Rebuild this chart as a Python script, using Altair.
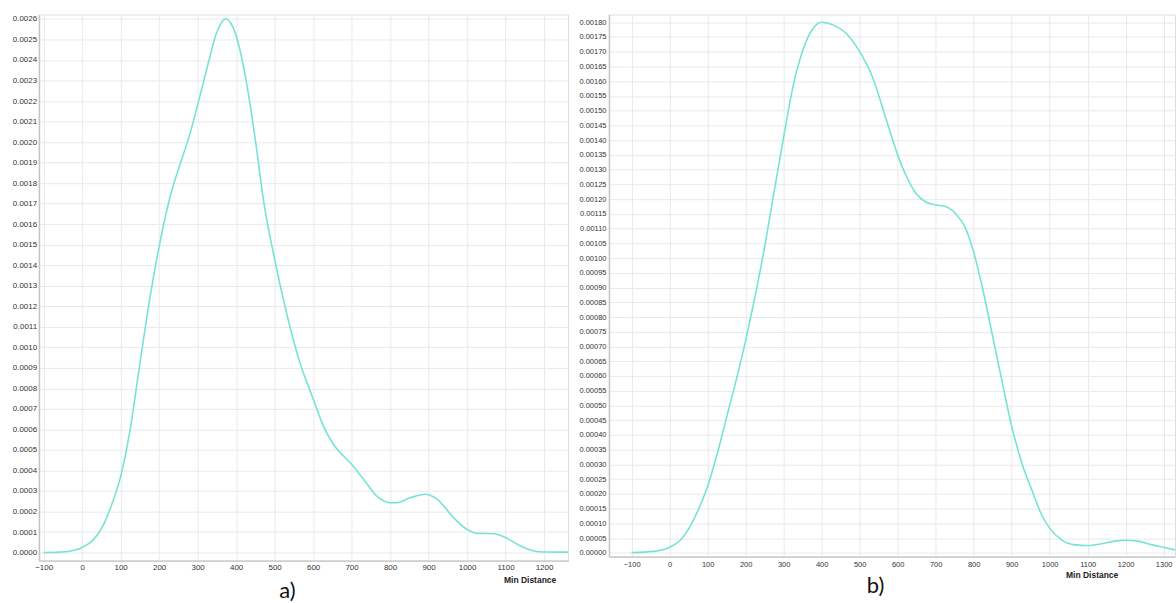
import altair as alt
import pandas as pd

# ---- panel a) : KDE of Min Distance ----
a_x = [-100, -60, -30, 0, 29, 55, 80, 100, 124, 150, 176, 200, 228, 254, 280, 300,
       323, 349, 373, 398, 427, 453, 470, 500, 532, 565, 600, 626, 652, 700, 730,
       765, 800, 817, 852, 891, 922, 965, 1000, 1026, 1070, 1100, 1139, 1174, 1200, 1263]
a_d = [0.0000000, 0.0000020, 0.0000080, 0.0000250, 0.0000620, 0.0001340, 0.0002500,
       0.0003700, 0.0005900, 0.0009200, 0.0012400, 0.0014900, 0.0017300, 0.0018900,
       0.0020400, 0.0021800, 0.0023500, 0.0025300, 0.0026000, 0.0025300, 0.0022900,
       0.0019700, 0.0017300, 0.0014300, 0.0011600, 0.0009300, 0.0007500, 0.0006200,
       0.0005300, 0.0004300, 0.0003600, 0.0002760, 0.0002430, 0.0002430, 0.0002670,
       0.0002840, 0.0002600, 0.0001700, 0.0001130, 0.0000940, 0.0000920, 0.0000730,
       0.0000320, 0.0000080, 0.0000030, 0.0000020]

# ---- panel b) ----
b_x = [-100, -42, 0, 28, 54, 80, 100, 124, 150, 176, 200, 220, 246, 273, 300, 326,
       352, 378, 400, 431, 466, 500, 535, 570, 600, 622, 648, 674, 700, 726, 753,
       779, 800, 823, 849, 875, 900, 928, 954, 980, 1000, 1032, 1067, 1100, 1137,
       1172, 1200, 1233, 1268, 1300, 1330]
b_d = [0.000001, 0.000005, 0.000019, 0.000043, 0.000090, 0.000160, 0.000226, 0.000330,
       0.000460, 0.000590, 0.000720, 0.000840, 0.001010, 0.001210, 0.001410, 0.001590,
       0.001710, 0.001780, 0.001800, 0.001790, 0.001760, 0.001700, 0.001610, 0.001470,
       0.001350, 0.001280, 0.001220, 0.001190, 0.001180, 0.001175, 0.001150, 0.001100,
       0.001020, 0.000900, 0.000740, 0.000580, 0.000430, 0.000300, 0.000210, 0.000126,
       0.000084, 0.000043, 0.000027, 0.000025, 0.000031, 0.000040, 0.000043, 0.000040,
       0.000028, 0.000019, 0.000010]

a_xticks = list(range(-100, 1300, 100))
a_yticks = [round(i * 0.0001, 4) for i in range(27)]
b_xticks = list(range(-100, 1400, 100))
b_yticks = [round(i * 0.00005, 5) for i in range(37)]

LINE = "#76e3d4"
FONT = "Liberation Sans"
GRID = "#e9e9e9"
DOMAIN = "#c4c4c4"
LABEL = "#333333"


def panel(xs, ds, xdom, ydom, xticks, yticks, yfmt, w, h, ttl, ttl_dx,
          xt_x, xt_y, lab_size, ylab_pad, xlab_pad):
    df = pd.DataFrame({"x": xs, "d": ds})
    return (
        alt.Chart(
            df,
            title=alt.TitleParams(
                text=ttl, orient="bottom", anchor="middle", dx=ttl_dx, offset=-3,
                font="Lato", fontSize=22, fontWeight="normal", color="#111111",
            ),
        )
        .mark_line(color=LINE, strokeWidth=1.6, interpolate="monotone", clip=True)
        .encode(
            x=alt.X(
                "x:Q",
                scale=alt.Scale(domain=xdom, nice=False, zero=False),
                axis=alt.Axis(
                    values=xticks, format="d", title="Min Distance",
                    titleX=xt_x, titleY=xt_y, titleAlign="right", titleAnchor="end",
                    titleBaseline="middle", titleFont=FONT, titleFontSize=8.5,
                    titleFontWeight="bold", titleColor="#222222",
                    labelFont=FONT, labelFontSize=lab_size, labelColor=LABEL,
                    labelPadding=xlab_pad, labelFlush=False, labelOverlap=False,
                    ticks=False, domainColor=DOMAIN, domainWidth=1.2,
                    gridColor=GRID, gridWidth=1,
                ),
            ),
            y=alt.Y(
                "d:Q",
                scale=alt.Scale(domain=ydom, nice=False, zero=False),
                axis=alt.Axis(
                    values=yticks, format=yfmt, title=None,
                    labelFont=FONT, labelFontSize=lab_size, labelColor=LABEL,
                    labelPadding=ylab_pad, labelFlush=False, labelOverlap=False,
                    ticks=False, domainColor=DOMAIN, domainWidth=1.5,
                    gridColor=GRID, gridWidth=1,
                ),
            ),
        )
        .properties(width=w, height=h)
    )


left = panel(a_x, a_d, [-112.2, 1262.3], [-0.0000389, 0.0026216], a_xticks, a_yticks,
             ".4f", 530, 547, "a)", -16, 517.7, 18.7, 8, 2.3, 3)
right = panel(b_x, b_d, [-159.6, 1329.8], [-0.0000125, 0.0018261], b_xticks, b_yticks,
              ".5f", 567, 543, "b)", -16.5, 509.7, 18, 7.5, 3, 4)

chart = (
    alt.hconcat(left, right, spacing=41, bounds="flush")
    .properties(padding={"left": 11, "top": 13, "right": 0, "bottom": 0})
    .configure_view(stroke=None)
    .configure(background="white")
)

chart.save("out.html", embed_options={"renderer": "svg", "actions": False})
